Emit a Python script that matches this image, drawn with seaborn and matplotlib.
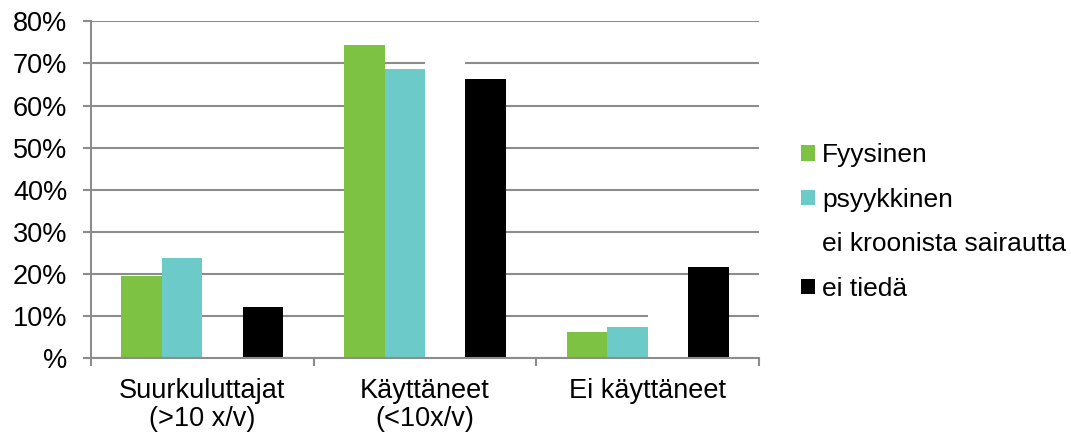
import matplotlib
matplotlib.use("Agg")
import matplotlib.pyplot as plt
import seaborn as sns
import pandas as pd
from matplotlib.ticker import FixedLocator, FixedFormatter

# Käyttäjäryhmät (x-akseli)
categories = ["Suurkuluttajat\n(>10 x/v)", "Käyttäneet\n(<10x/v)", "Ei käyttäneet"]

# Sarjat: osuus ryhmittäin (%)
series = ["Fyysinen", "psyykkinen", "ei kroonista sairautta", "ei tiedä"]
fyysinen = [19.5, 74.3, 6.2]
psyykkinen = [23.7, 68.6, 7.4]
ei_kroonista = [9.0, 76.0, 15.0]
ei_tieda = [12.1, 66.2, 21.6]

y_ticks = [0, 10, 20, 30, 40, 50, 60, 70, 80]
y_tick_labels = ["%", "10%", "20%", "30%", "40%", "50%", "60%", "70%", "80%"]

colors = ["#7DC242", "#6CCAC8", "#FFFFFF", "#000000"]

rows = []
for name, vals in zip(series, [fyysinen, psyykkinen, ei_kroonista, ei_tieda]):
    for cat, v in zip(categories, vals):
        rows.append({"ryhmä": cat, "sarja": name, "osuus": v})
df = pd.DataFrame(rows)

sns.set_theme(style="white")
plt.rcParams["font.family"] = ["Liberation Sans", "DejaVu Sans"]
plt.rcParams["text.color"] = "black"

FS = 19.5
LEG_FS = 19

fig = plt.figure(figsize=(10.71, 4.34), dpi=100)
ax = fig.add_axes([91 / 1071, (434 - 358.3) / 434, (759 - 91) / 1071, (358.3 - 21.3) / 434])

sns.barplot(data=df, x="ryhmä", y="osuus", hue="sarja", order=categories,
            hue_order=series, palette=colors, width=0.727, gap=0,
            linewidth=0, ax=ax, errorbar=None, saturation=1)

grid_color = "#8C8C8C"
ax.set_axisbelow(True)
ax.yaxis.grid(True, color=grid_color, linewidth=1.5)
ax.xaxis.grid(False)

ax.set_ylim(0, 80)
ax.set_xlim(-0.5, 2.5)
ax.yaxis.set_major_locator(FixedLocator(y_ticks))
ax.yaxis.set_major_formatter(FixedFormatter(y_tick_labels))

for s in ["top", "right"]:
    ax.spines[s].set_visible(False)
for s in ["left", "bottom"]:
    ax.spines[s].set_color(grid_color)
    ax.spines[s].set_linewidth(1.5)

ax.set_xlabel("")
ax.set_ylabel("")

ax.tick_params(axis="y", which="major", direction="out", length=6, width=1.5,
               color=grid_color, pad=11, labelsize=FS, labelcolor="black", left=True)
ax.tick_params(axis="x", which="major", length=0, pad=14, labelsize=FS, labelcolor="black")
ax.set_xticks(range(len(categories)))
ax.set_xticklabels(categories, linespacing=1.1)
ax.xaxis.set_minor_locator(FixedLocator([-0.5, 0.5, 1.5, 2.5]))
ax.tick_params(axis="x", which="minor", direction="out", length=6, width=1.5,
               color=grid_color, bottom=True)

handles, labels = ax.get_legend_handles_labels()
leg = ax.legend(handles, labels, loc="center left", frameon=False, fontsize=LEG_FS,
                handlelength=0.53, handleheight=0.53, handletextpad=0.27,
                labelspacing=0.78, borderaxespad=0, labelcolor="black")
leg.set_bbox_to_anchor((1.047, 0.404), transform=ax.transAxes)

fig.savefig("out.png", dpi=100, facecolor="white")
